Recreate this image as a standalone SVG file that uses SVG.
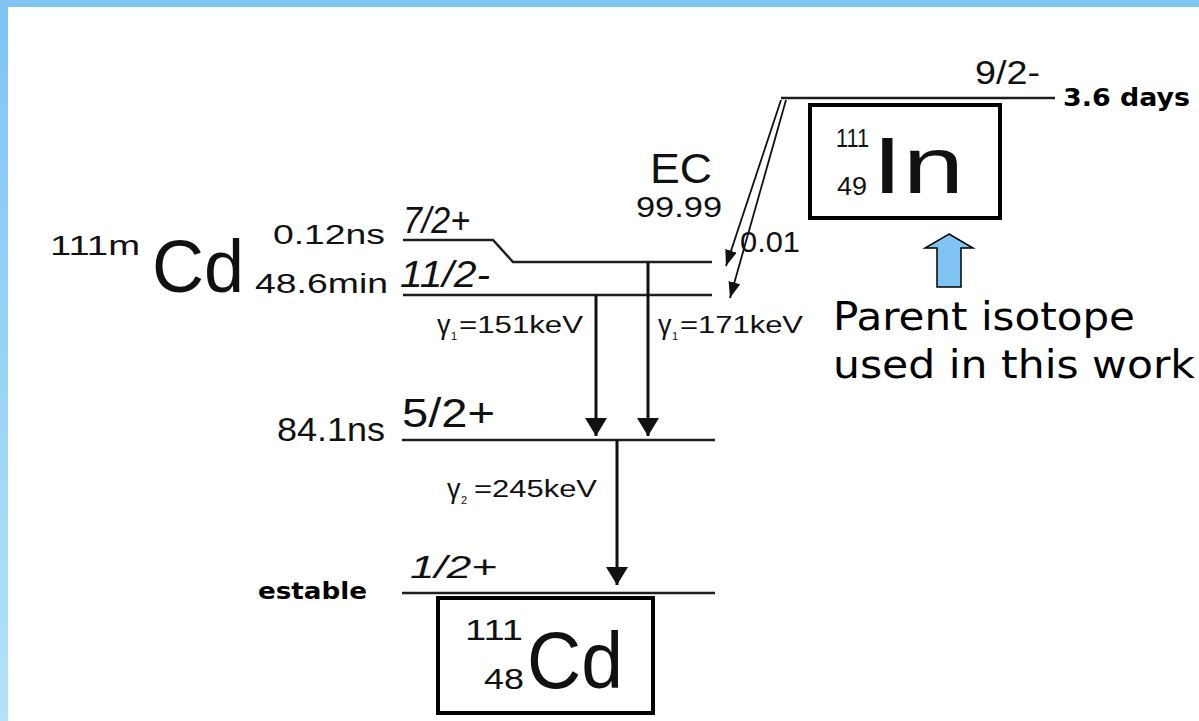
<svg xmlns="http://www.w3.org/2000/svg" width="1199" height="721" viewBox="0 0 1199 721">
<defs>
<linearGradient id="side" x1="0" y1="0" x2="0" y2="1"><stop offset="0" stop-color="#80C4F4"/><stop offset="1" stop-color="#B4E2F8"/></linearGradient>
<marker id="big" viewBox="0 0 18 22" refX="18" refY="11" markerWidth="18" markerHeight="22" markerUnits="userSpaceOnUse" orient="auto"><path d="M0,0 L18,11 L0,22 z" fill="#111"/></marker>
<marker id="small" viewBox="0 0 16 12" refX="16" refY="6" markerWidth="16" markerHeight="12" markerUnits="userSpaceOnUse" orient="auto"><path d="M0,0 L16,6 L0,12 z" fill="#111"/></marker>
<style>
.lvl{stroke:#1e1e1e;stroke-width:2.5;fill:none}
.g{stroke:#111;stroke-width:3;marker-end:url(#big)}
.ec{stroke:#111;stroke-width:1.8;marker-end:url(#small)}
.box{fill:none;stroke:#000;stroke-width:4}
.a{font-family:"Liberation Sans",Arial,sans-serif;fill:#111}
.i{font-style:italic}
.v{font-family:"DejaVu Sans",Verdana,sans-serif;fill:#000}
.b{font-weight:bold}
</style>
</defs>
<rect width="1199" height="721" fill="#fff"/>
<rect x="0" y="0" width="1199" height="7" fill="#80C4F4"/>
<rect x="0" y="0" width="8" height="721" fill="url(#side)"/>

<g id="levels">
<polyline class="lvl" points="403,240 493,240 513,262 712,262"/>
<line class="lvl" x1="403" y1="295" x2="712" y2="295"/>
<line class="lvl" x1="402" y1="440" x2="715" y2="440"/>
<line class="lvl" x1="402" y1="593" x2="715" y2="593"/>
<line class="lvl" x1="781" y1="98" x2="1055" y2="98"/>
</g>

<g id="connectors">
<line class="g" x1="596" y1="295" x2="596" y2="436"/>
<line class="g" x1="648" y1="262" x2="648" y2="436"/>
<line class="g" x1="617" y1="440" x2="617" y2="585"/>
<line class="ec" x1="781" y1="100" x2="726" y2="266"/>
<line class="ec" x1="786" y1="100" x2="730" y2="298"/>
</g>

<g id="in111">
<rect class="box" x="810" y="105" width="190" height="113"/>
<text class="a" x="836" y="147" font-size="26" textLength="33" lengthAdjust="spacingAndGlyphs">111</text>
<text class="a" x="837" y="195" font-size="26" textLength="30" lengthAdjust="spacingAndGlyphs">49</text>
<text class="a" x="872" y="193" font-size="80" textLength="92" lengthAdjust="spacingAndGlyphs">In</text>
</g>

<g id="cd111">
<rect class="box" x="438" y="598" width="215" height="115"/>
<text class="a" x="465" y="640" font-size="30" textLength="58" lengthAdjust="spacingAndGlyphs">111</text>
<text class="a" x="484" y="689" font-size="30" textLength="40" lengthAdjust="spacingAndGlyphs">48</text>
<text class="a" x="527" y="688" font-size="80" textLength="96" lengthAdjust="spacingAndGlyphs">Cd</text>
</g>

<g id="labels">
<text class="a" x="975" y="84" font-size="34" textLength="65" lengthAdjust="spacingAndGlyphs">9/2-</text>
<text class="v b" x="1063" y="106" font-size="25" textLength="127" lengthAdjust="spacingAndGlyphs">3.6 days</text>
<text class="a" x="50" y="255" font-size="28" textLength="90" lengthAdjust="spacingAndGlyphs">111m</text>
<text class="a" x="152" y="292" font-size="74" textLength="92" lengthAdjust="spacingAndGlyphs">Cd</text>
<text class="a" x="273" y="244" font-size="28" textLength="112" lengthAdjust="spacingAndGlyphs">0.12ns</text>
<text class="a" x="255" y="293" font-size="28" textLength="133" lengthAdjust="spacingAndGlyphs">48.6min</text>
<text class="a i" x="403" y="233" font-size="36" textLength="67" lengthAdjust="spacingAndGlyphs">7/2+</text>
<text class="a i" x="400" y="287" font-size="36" textLength="90" lengthAdjust="spacingAndGlyphs">11/2-</text>
<text class="a" x="650" y="183" font-size="42" textLength="62" lengthAdjust="spacingAndGlyphs">EC</text>
<text class="a" x="636" y="217" font-size="30" textLength="86" lengthAdjust="spacingAndGlyphs">99.99</text>
<text class="a" x="740" y="252" font-size="30" textLength="60" lengthAdjust="spacingAndGlyphs">0.01</text>
<text class="a" x="437" y="334" font-size="27">γ</text>
<text class="a" x="451" y="340" font-size="11">1</text>
<text class="a" x="459" y="333" font-size="23" textLength="124" lengthAdjust="spacingAndGlyphs">=151keV</text>
<text class="a" x="658" y="334" font-size="27">γ</text>
<text class="a" x="672" y="340" font-size="11">1</text>
<text class="a" x="680" y="333" font-size="23" textLength="123" lengthAdjust="spacingAndGlyphs">=171keV</text>
<text class="a" x="277" y="441" font-size="34" textLength="108" lengthAdjust="spacingAndGlyphs">84.1ns</text>
<text class="a" x="402" y="427" font-size="40" textLength="93" lengthAdjust="spacingAndGlyphs">5/2+</text>
<text class="a" x="447" y="498" font-size="27">γ</text>
<text class="a" x="461" y="504" font-size="11">2</text>
<text class="a" x="474" y="497" font-size="23" textLength="123" lengthAdjust="spacingAndGlyphs">=245keV</text>
<text class="a i" x="410" y="578" font-size="32" textLength="87" lengthAdjust="spacingAndGlyphs">1/2+</text>
<text class="v b" x="258" y="599" font-size="23" textLength="109" lengthAdjust="spacingAndGlyphs">estable</text>
</g>

<g id="parent">
<polygon points="949,234 973,248 961,248 961,287 937,287 937,248 925,248" fill="#80C4F4" stroke="#000" stroke-width="1.5"/>
<text class="v" x="833" y="330" font-size="39" textLength="302" lengthAdjust="spacingAndGlyphs">Parent isotope</text>
<text class="v" x="833" y="378" font-size="39" textLength="362" lengthAdjust="spacingAndGlyphs">used in this work</text>
</g>
</svg>
